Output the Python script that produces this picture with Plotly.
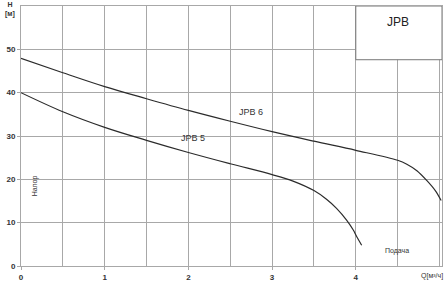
import plotly.graph_objects as go

# Data
q_jpb6 = [0, 0.5, 1, 1.5, 2, 2.5, 3, 3.5, 4, 4.5, 4.61, 4.73, 4.85, 4.95, 5.02]
h_jpb6 = [47.9, 44.6, 41.4, 38.6, 35.9, 33.4, 31.0, 28.8, 26.7, 24.4, 23.5, 22.0, 19.7, 17.4, 15.1]
q_jpb5 = [0, 0.5, 1, 1.5, 2, 2.5, 3, 3.25, 3.5, 3.65, 3.77, 3.89, 3.97, 4.01, 4.07]
h_jpb5 = [40.0, 35.6, 32.0, 29.0, 26.2, 23.6, 21.1, 19.6, 17.4, 15.4, 13.3, 10.6, 8.3, 6.8, 4.8]
x_ticks = [0, 1, 2, 3, 4]
y_ticks = [0, 10, 20, 30, 40, 50]

FONT = "Liberation Sans, Arial, sans-serif"
LINE = "#2b2b2b"
GRID = "#a8a8a8"

fig = go.Figure()
for q, h in [(q_jpb6, h_jpb6), (q_jpb5, h_jpb5)]:
    fig.add_trace(go.Scatter(x=q, y=h, mode="lines",
                             line=dict(color=LINE, width=1.2, shape="spline", smoothing=1.0),
                             showlegend=False, hoverinfo="skip"))

fig.update_layout(
    width=448, height=287,
    margin=dict(l=21, r=6, t=5, b=19),
    paper_bgcolor="white", plot_bgcolor="white",
    font=dict(family=FONT, size=8, color="#333"),
    xaxis=dict(range=[0, 5.03], tickvals=x_ticks, ticktext=[f"<b>{v}</b>" for v in x_ticks],
               showgrid=True, gridcolor=GRID, gridwidth=1,
               minor=dict(dtick=0.5, tick0=0, showgrid=True, gridcolor=GRID, gridwidth=1),
               ticks="outside", ticklen=3, tickcolor=GRID,
               showline=True, linecolor=GRID, linewidth=1, mirror=True, zeroline=False,
               tickfont=dict(size=8, color="#333")),
    yaxis=dict(range=[0, 60], tickvals=y_ticks, ticktext=[f"<b>{v}</b>" for v in y_ticks],
               showgrid=True, gridcolor=GRID, gridwidth=1,
               ticks="outside", ticklen=3, tickcolor=GRID,
               showline=True, linecolor=GRID, linewidth=1, mirror=True, zeroline=False,
               tickfont=dict(size=8, color="#333")),
)

fig.add_shape(type="rect", xref="x", yref="y", x0=4, x1=5.03, y0=47.6, y1=60,
              fillcolor="white", line=dict(color="#777", width=1), layer="above")

anns = [
    dict(x=4.5, y=56.3, text="JPB", font=dict(size=12, color="#222")),
    dict(x=2.75, y=35.6, text="JPB 6", font=dict(size=9, color="#333")),
    dict(x=2.05, y=29.6, text="JPB 5", font=dict(size=9, color="#333")),
    dict(x=4.49, y=3.5, text="Подача", font=dict(size=7, color="#333")),
    dict(x=0.16, y=18.5, text="Напор", textangle=-90, font=dict(size=7, color="#333")),
]
for a in anns:
    fig.add_annotation(xref="x", yref="y", showarrow=False, **a)

fig.add_annotation(xref="paper", yref="paper", x=-0.026, y=0.985, text="<b>H</b><br><b>[м]</b>",
                   showarrow=False, font=dict(size=7, color="#333"), xanchor="center", yanchor="middle")
fig.add_annotation(xref="paper", yref="paper", x=0.976, y=-0.04, text="Q[м³/ч]",
                   showarrow=False, font=dict(size=7, color="#333"), xanchor="center", yanchor="middle")

fig.write_html("out.html")
